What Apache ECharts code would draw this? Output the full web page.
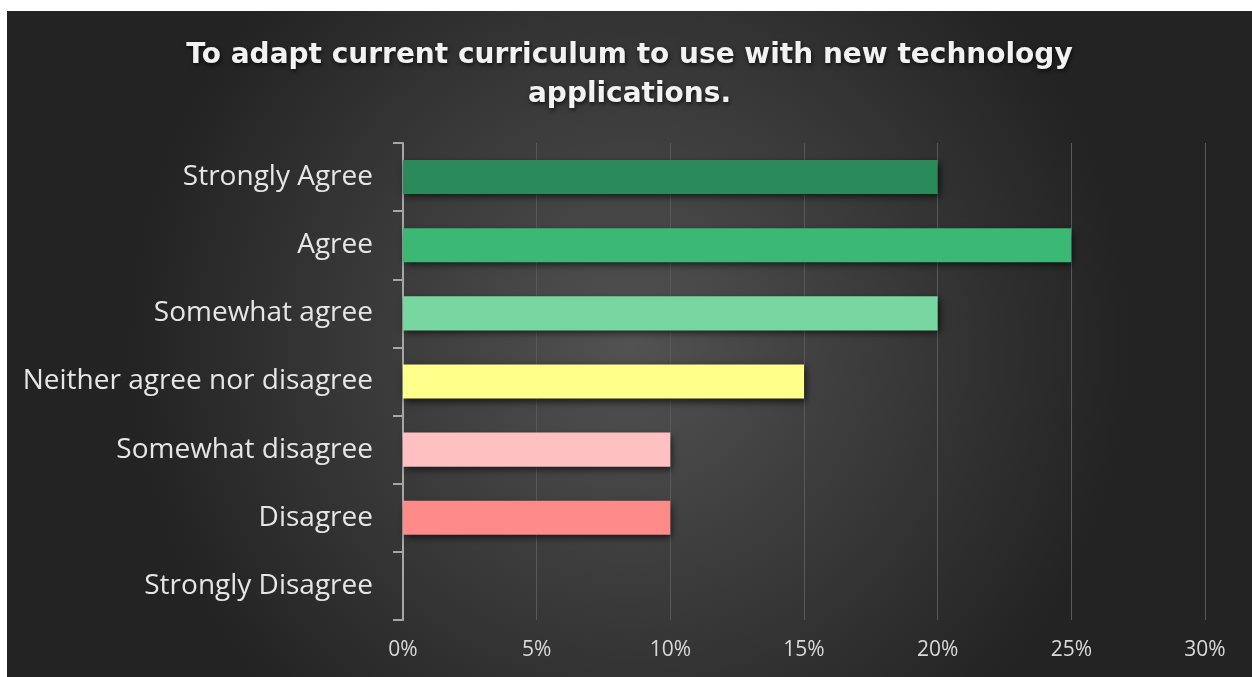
<!DOCTYPE html>
<html>
<head>
<meta charset="utf-8">
<script src="https://cdn.jsdelivr.net/npm/echarts@6/dist/echarts.min.js"></script>
<style>
  html, body { margin: 0; padding: 0; background: #ffffff; }
  #chart { position: absolute; left: 7px; top: 11px; width: 1245px; height: 666px; }
</style>
</head>
<body>
<div id="chart"></div>
<script>
// Survey responses, top to bottom
const categories = [
  'Strongly Agree',
  'Agree',
  'Somewhat agree',
  'Neither agree nor disagree',
  'Somewhat disagree',
  'Disagree',
  'Strongly Disagree'
];
// Share of respondents, percent
const shares = [20, 25, 20, 15, 10, 10, 0];
const barColors = ['#2b8a5a', '#3bb874', '#78d6a0', '#ffff8c', '#ffc0c2', '#ff8a8a', '#c00000'];
const titleText = 'To adapt current curriculum to use with new technology\napplications.';

const chart = echarts.init(document.getElementById('chart'), null, { renderer: 'canvas' });

chart.setOption({
  animation: false,
  backgroundColor: {
    type: 'radial', x: 0.5, y: 0.5, r: 0.75,
    colorStops: [
      { offset: 0, color: '#525252' },
      { offset: 1, color: '#232323' }
    ]
  },
  title: {
    text: titleText,
    left: 'center',
    top: 20,
    textStyle: {
      fontFamily: 'DejaVu Sans',
      fontWeight: 'bold',
      fontSize: 28,
      lineHeight: 39,
      color: '#f2f2f2',
      textShadowColor: 'rgba(0,0,0,0.7)',
      textShadowBlur: 4,
      textShadowOffsetX: 1,
      textShadowOffsetY: 2
    }
  },
  grid: { left: 396, right: 47, top: 132, bottom: 57, containLabel: false },
  xAxis: {
    type: 'value',
    min: 0,
    max: 30,
    interval: 5,
    axisLine: { show: false },
    axisTick: { show: false },
    splitLine: { show: true, lineStyle: { color: '#595959', width: 1 } },
    axisLabel: {
      formatter: '{value}%',
      color: '#d9d9d9',
      fontFamily: 'Open Sans',
      fontSize: 21,
      margin: 20
    }
  },
  yAxis: {
    type: 'category',
    data: categories,
    inverse: true,
    axisLine: { show: true, lineStyle: { color: '#a6a6a6', width: 2 } },
    axisTick: { show: true, length: 10, lineStyle: { color: '#a6a6a6', width: 2 } },
    splitLine: { show: false },
    axisLabel: {
      color: '#e6e6e6',
      fontFamily: 'Open Sans',
      fontSize: 28,
      margin: 30
    }
  },
  series: [{
    type: 'bar',
    data: shares.map((v, i) => ({ value: v, itemStyle: { color: barColors[i] } })),
    barCategoryGap: '50%',
    itemStyle: {
      shadowColor: 'rgba(0,0,0,0.65)',
      shadowBlur: 7,
      shadowOffsetX: 2,
      shadowOffsetY: 3
    }
  }]
});
</script>
</body>
</html>
